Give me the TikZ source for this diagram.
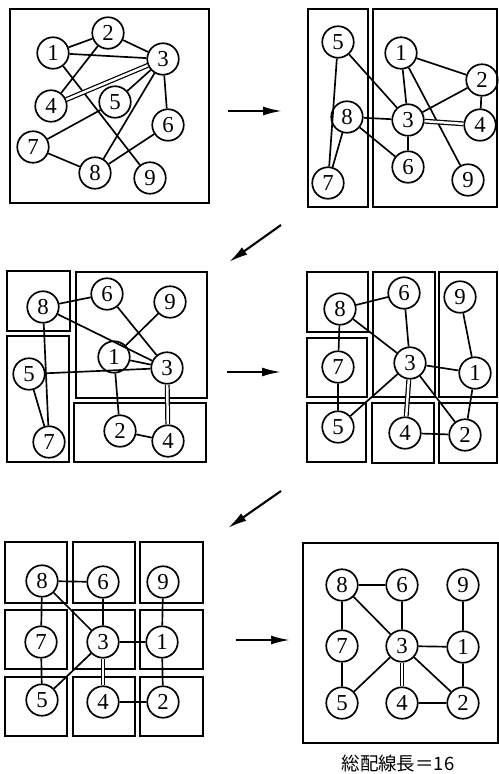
\documentclass[tikz,border=0pt]{standalone}
\usepackage{fontspec}
\newfontfamily\cjk{Noto Sans CJK JP}
\newfontfamily\digitfont{Liberation Serif}
\usetikzlibrary{arrows.meta}
\begin{document}
\begin{tikzpicture}[x=0.02cm,y=-0.02cm,
  vx/.style={circle,draw,line width=0.95pt,minimum size=0.63cm,inner sep=0pt,
    font=\digitfont\fontsize{13}{13}\selectfont},
  frame/.style={draw,line width=1pt},
  edge/.style={line width=0.95pt},
  dbl/.style={line width=0.7pt,double,double distance=1.4pt},
  flow/.style={line width=1.2pt,-{Latex[length=3.8mm,width=1.8mm]}}]
\useasboundingbox (0,0) rectangle (499,774);

% ---- stage 1: initial placement ----
\draw[frame] (10,9) rectangle (209,203);
\node[vx] (a1) at (53,53) {1};
\node[vx] (a2) at (108,33) {2};
\node[vx] (a3) at (163,59) {3};
\node[vx] (a4) at (51,106) {4};
\node[vx] (a5) at (115,102) {5};
\node[vx] (a6) at (168,125) {6};
\node[vx] (a7) at (33,147) {7};
\node[vx] (a8) at (95,173) {8};
\node[vx] (a9) at (150,178) {9};
\draw[edge] (a1)--(a2) (a1)--(a3) (a2)--(a3) (a2)--(a4) (a3)--(a5) (a3)--(a6)
  (a3)--(a8) (a1)--(a9) (a5)--(a7) (a7)--(a8) (a6)--(a8);
\draw[dbl] (a3)--(a4);

% ---- stage 2: first bipartition ----
\draw[frame] (308,9) rectangle (368,207);
\draw[frame] (373,9) rectangle (497,207);
\node[vx] (b5) at (338,42) {5};
\node[vx] (b1) at (401,53) {1};
\node[vx] (b2) at (482,80) {2};
\node[vx] (b8) at (347,117) {8};
\node[vx] (b3) at (408,120) {3};
\node[vx] (b4) at (480,125) {4};
\node[vx] (b6) at (408,167) {6};
\node[vx] (b9) at (468,180) {9};
\node[vx] (b7) at (328,183) {7};
\draw[edge] (b5)--(b7) (b5)--(b3) (b8)--(b7) (b8)--(b3) (b8)--(b6) (b1)--(b3)
  (b1)--(b2) (b1)--(b9) (b2)--(b3) (b2)--(b4) (b3)--(b6);
\draw[dbl] (b3)--(b4);

% ---- stage 3 ----
\draw[frame] (7,271) rectangle (70,331);
\draw[frame] (7,336) rectangle (69,462);
\draw[frame] (76,272) rectangle (207,398);
\draw[frame] (74,403) rectangle (206,462);
\node[vx] (c8) at (43,307) {8};
\node[vx] (c6) at (107,294) {6};
\node[vx] (c9) at (170,302) {9};
\node[vx] (c1) at (114,357) {1};
\node[vx] (c3) at (167,368) {3};
\node[vx] (c5) at (29,374) {5};
\node[vx] (c2) at (120,431) {2};
\node[vx] (c4) at (168,441) {4};
\node[vx] (c7) at (49,442) {7};
\draw[edge] (c8)--(c6) (c8)--(c3) (c8)--(c7) (c6)--(c3) (c9)--(c1) (c1)--(c3)
  (c5)--(c3) (c5)--(c7) (c1)--(c2) (c2)--(c4);
\draw[dbl] (c3)--(c4);

% ---- stage 4 ----
\draw[frame] (307,272) rectangle (368,332);
\draw[frame] (307,338) rectangle (367,397);
\draw[frame] (307,403) rectangle (366,462);
\draw[frame] (373,272) rectangle (435,397);
\draw[frame] (372,403) rectangle (434,463);
\draw[frame] (439,272) rectangle (497,397);
\draw[frame] (439,403) rectangle (497,463);
\node[vx] (d8) at (340,309) {8};
\node[vx] (d6) at (404,293) {6};
\node[vx] (d9) at (460,297) {9};
\node[vx] (d7) at (338,367) {7};
\node[vx] (d3) at (410,363) {3};
\node[vx] (d1) at (475,373) {1};
\node[vx] (d5) at (338,427) {5};
\node[vx] (d4) at (405,433) {4};
\node[vx] (d2) at (465,435) {2};
\draw[edge] (d8)--(d6) (d8)--(d7) (d8)--(d3) (d6)--(d3) (d9)--(d1) (d3)--(d1)
  (d7)--(d5) (d3)--(d5) (d3)--(d2) (d1)--(d2) (d4)--(d2);
\draw[dbl] (d3)--(d4);

% ---- stage 5: 3x3 grid of slots ----
\foreach \x/\xx in {5/67,73/135,140/203}
  \foreach \y/\yy in {542/603,610/669,677/736}
    \draw[frame] (\x,\y) rectangle (\xx,\yy);
\node[vx] (e8) at (42,581) {8};
\node[vx] (e6) at (103,582) {6};
\node[vx] (e9) at (163,582) {9};
\node[vx] (e7) at (41,642) {7};
\node[vx] (e3) at (103,642) {3};
\node[vx] (e1) at (162,642) {1};
\node[vx] (e5) at (42,700) {5};
\node[vx] (e4) at (103,702) {4};
\node[vx] (e2) at (163,702) {2};
\draw[edge] (e8)--(e6) (e8)--(e7) (e8)--(e3) (e6)--(e3) (e9)--(e1) (e3)--(e1)
  (e7)--(e5) (e3)--(e5) (e1)--(e2) (e4)--(e2);
\draw[dbl] (e3)--(e4);

% ---- stage 6: final placement ----
\draw[frame] (303,543) rectangle (498,743);
\node[vx] (f8) at (342,585) {8};
\node[vx] (f6) at (402,585) {6};
\node[vx] (f9) at (463,585) {9};
\node[vx] (f7) at (342,646) {7};
\node[vx] (f3) at (402,646) {3};
\node[vx] (f1) at (463,647) {1};
\node[vx] (f5) at (342,703) {5};
\node[vx] (f4) at (402,703) {4};
\node[vx] (f2) at (463,703) {2};
\draw[edge] (f8)--(f6) (f8)--(f7) (f8)--(f3) (f6)--(f3) (f9)--(f1) (f3)--(f1)
  (f7)--(f5) (f3)--(f5) (f3)--(f2) (f1)--(f2) (f4)--(f2);
\draw[dbl] (f3)--(f4);
\node[font=\cjk\fontsize{10.5}{12}\selectfont] (cap) at (398,763) {総配線長＝16};

% ---- step arrows ----
\coordinate (s1) at (228,111); \coordinate (t1) at (282,111);
\coordinate (s2) at (281,225); \coordinate (t2) at (229,262);
\coordinate (s3) at (227,372); \coordinate (t3) at (281,372);
\coordinate (s4) at (281,491); \coordinate (t4) at (228,528);
\coordinate (s5) at (236,640); \coordinate (t5) at (290,640);
\draw[flow] (s1)--(t1);
\draw[flow] (s2)--(t2);
\draw[flow] (s3)--(t3);
\draw[flow] (s4)--(t4);
\draw[flow] (s5)--(t5);
\end{tikzpicture}
\end{document}
